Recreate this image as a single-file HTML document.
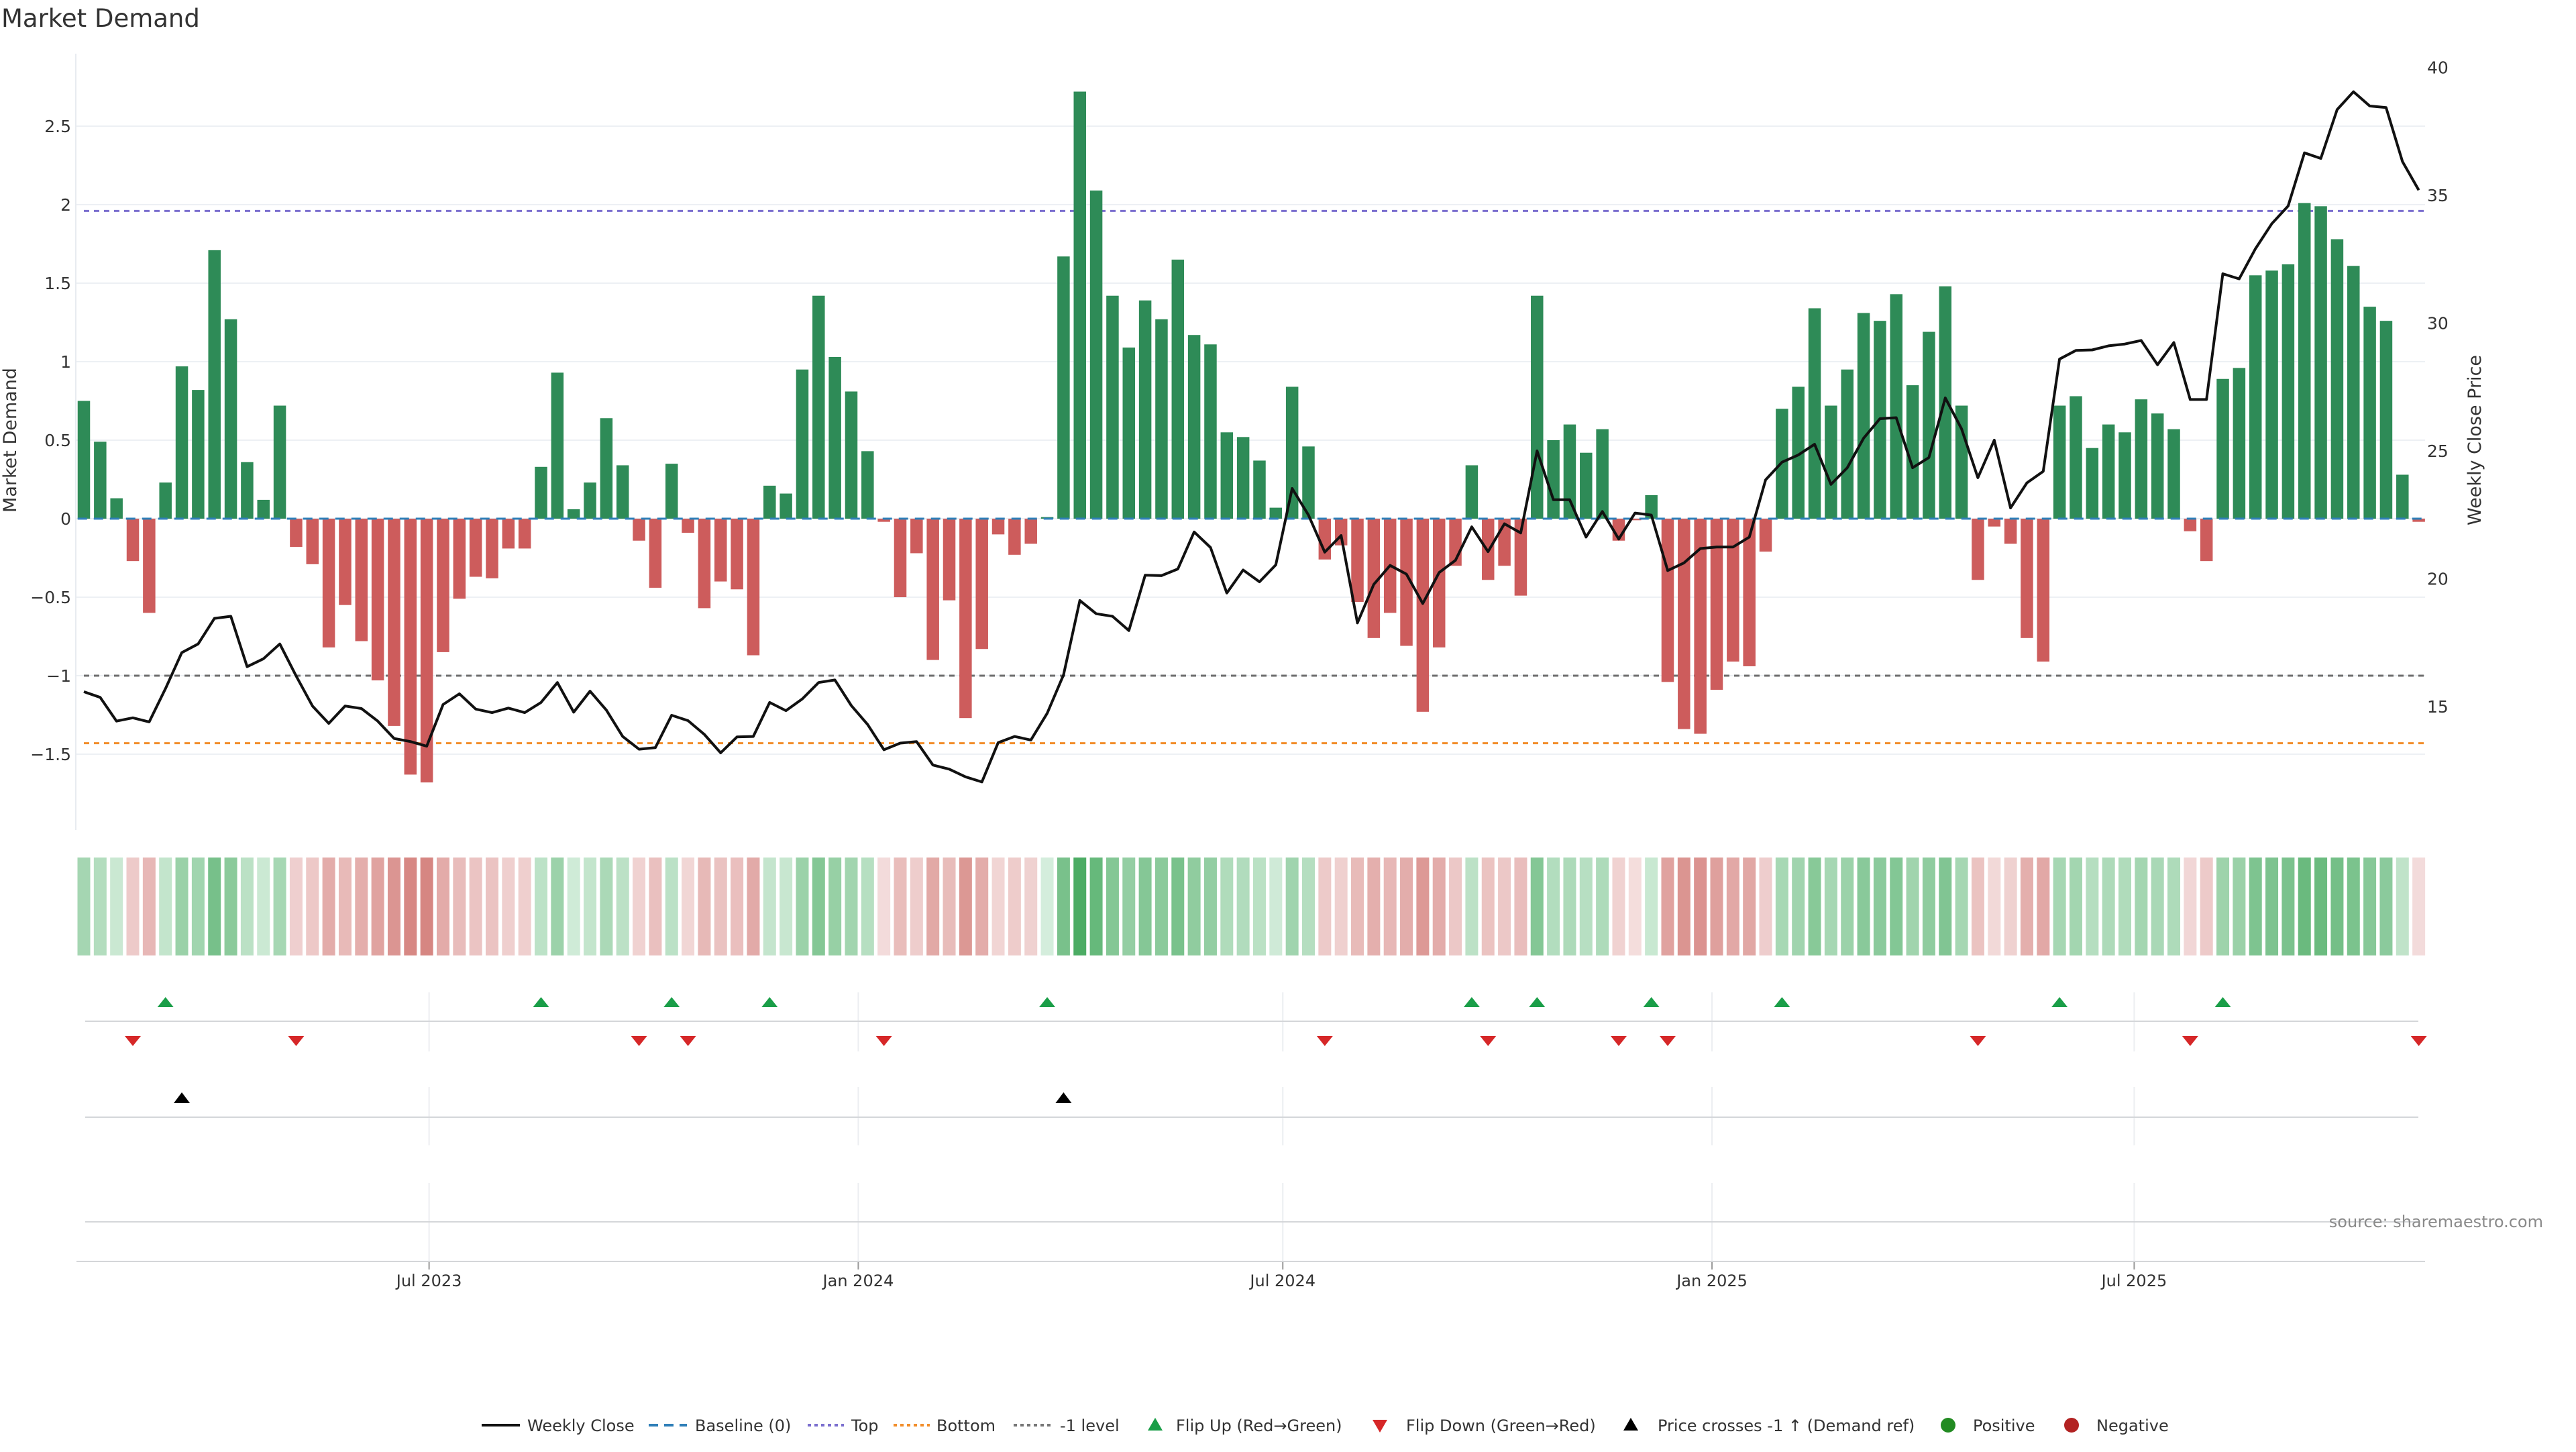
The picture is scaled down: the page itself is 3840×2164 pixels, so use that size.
<!DOCTYPE html>
<html><head><meta charset="utf-8"><title>Market Demand</title>
<style>
html,body{margin:0;padding:0;background:#fff;}
body{width:3840px;height:2160px;overflow:hidden;font-family:"DejaVu Sans","Liberation Sans",sans-serif;}
svg text{font-family:"DejaVu Sans","Liberation Sans",sans-serif;fill:#333;}
</style></head>
<body>
<svg id="chart" width="3840" height="2160" viewBox="0 0 3840 2160" xmlns="http://www.w3.org/2000/svg">
  <text x="2" y="40" font-size="37">Market Demand</text>
  <g id="grid"></g>
  <g id="refs"></g>
  <g id="bars"></g>
  <g id="price"></g>
  <g id="axes"></g>
  <g id="heat"></g>
  <g id="events"></g>
  <text transform="translate(24,656) rotate(-90)" text-anchor="middle" font-size="27">Market Demand</text>
  <text transform="translate(3698,656) rotate(-90)" text-anchor="middle" font-size="27">Weekly Close Price</text>
  <text x="3791" y="1829" text-anchor="end" font-size="24" style="fill:#8a8a8a">source: sharemaestro.com</text>
  <g id="legend" font-size="24">
    <g><line x1="718" y1="2124" x2="775" y2="2124" stroke="#111" stroke-width="4"/><text x="786" y="2133">Weekly Close</text></g>
    <g><line x1="967" y1="2124" x2="1024" y2="2124" stroke="#2f7fb8" stroke-width="4" stroke-dasharray="14,9"/><text x="1036" y="2133">Baseline (0)</text></g>
    <g><line x1="1204" y1="2124" x2="1258" y2="2124" stroke="#7b6fcf" stroke-width="4" stroke-dasharray="5,5"/><text x="1269" y="2133">Top</text></g>
    <g><line x1="1332" y1="2124" x2="1386" y2="2124" stroke="#f28e2b" stroke-width="4" stroke-dasharray="5,5"/><text x="1396" y="2133">Bottom</text></g>
    <g><line x1="1511" y1="2124" x2="1567" y2="2124" stroke="#777" stroke-width="4" stroke-dasharray="5,5"/><text x="1580" y="2133">-1 level</text></g>
    <g><polygon points="1722,2113 1733,2132 1711,2132" fill="#1a9e48"/><text x="1753" y="2133">Flip Up (Red→Green)</text></g>
    <g><polygon points="2046,2116 2068,2116 2057,2135" fill="#d62728"/><text x="2096" y="2133">Flip Down (Green→Red)</text></g>
    <g><polygon points="2431,2113 2442,2132 2420,2132" fill="#000"/><text x="2471" y="2133">Price crosses -1 ↑ (Demand ref)</text></g>
    <g><circle cx="2904" cy="2124" r="11" fill="#228b22"/><text x="2941" y="2133">Positive</text></g>
    <g><circle cx="3088" cy="2124" r="11" fill="#b22222"/><text x="3125" y="2133">Negative</text></g>
  </g>
</svg>
<script>
// ---- data ----
const startDate = "2023-02-03";
const demand = [0.75,0.49,0.13,-0.27,-0.60,0.23,0.97,0.82,1.71,1.27,0.36,0.12,0.72,-0.18,-0.29,-0.82,-0.55,-0.78,-1.03,-1.32,-1.63,-1.68,-0.85,-0.51,-0.37,-0.38,-0.19,-0.19,0.33,0.93,0.06,0.23,0.64,0.34,-0.14,-0.44,0.35,-0.09,-0.57,-0.40,-0.45,-0.87,0.21,0.16,0.95,1.42,1.03,0.81,0.43,-0.02,-0.50,-0.22,-0.90,-0.52,-1.27,-0.83,-0.10,-0.23,-0.16,0.01,1.67,2.72,2.09,1.42,1.09,1.39,1.27,1.65,1.17,1.11,0.55,0.52,0.37,0.07,0.84,0.46,-0.26,-0.17,-0.53,-0.76,-0.60,-0.81,-1.23,-0.82,-0.30,0.34,-0.39,-0.30,-0.49,1.42,0.50,0.60,0.42,0.57,-0.14,-0.01,0.15,-1.04,-1.34,-1.37,-1.09,-0.91,-0.94,-0.21,0.70,0.84,1.34,0.72,0.95,1.31,1.26,1.43,0.85,1.19,1.48,0.72,-0.39,-0.05,-0.16,-0.76,-0.91,0.72,0.78,0.45,0.60,0.55,0.76,0.67,0.57,-0.08,-0.27,0.89,0.96,1.55,1.58,1.62,2.01,1.99,1.78,1.61,1.35,1.26,0.28,-0.02];
const closePrice = [15.58,15.36,14.43,14.56,14.40,15.70,17.11,17.45,18.45,18.53,16.56,16.87,17.45,16.20,15.02,14.34,15.02,14.92,14.43,13.75,13.63,13.45,15.08,15.50,14.90,14.76,14.94,14.76,15.16,15.94,14.78,15.60,14.86,13.83,13.33,13.39,14.66,14.45,13.91,13.19,13.81,13.83,15.16,14.84,15.30,15.94,16.04,15.04,14.30,13.31,13.57,13.63,12.71,12.55,12.25,12.05,13.59,13.83,13.69,14.74,16.24,19.15,18.63,18.53,17.97,20.14,20.12,20.38,21.83,21.22,19.44,20.34,19.88,20.54,23.53,22.49,21.04,21.69,18.27,19.78,20.52,20.18,19.03,20.24,20.72,22.03,21.06,22.15,21.79,25.00,23.09,23.09,21.63,22.63,21.55,22.57,22.49,20.32,20.62,21.18,21.24,21.24,21.63,23.87,24.56,24.84,25.26,23.69,24.34,25.50,26.26,26.30,24.34,24.74,27.07,25.86,23.95,25.42,22.77,23.75,24.20,28.59,28.93,28.95,29.11,29.18,29.32,28.37,29.24,27.01,27.01,31.93,31.73,32.91,33.89,34.58,36.66,36.44,38.35,39.05,38.49,38.43,36.32,35.20];
const leftTicks = [2.5,2,1.5,1,0.5,0,-0.5,-1,-1.5];
const leftTickLabels = ["2.5","2","1.5","1","0.5","0","−0.5","−1","−1.5"];
const rightTicks = [40,35,30,25,20,15];
const xTickDates = ["2023-07-01","2024-01-01","2024-07-01","2025-01-01","2025-07-01"];
const xTickLabels = ["Jul 2023","Jan 2024","Jul 2024","Jan 2025","Jul 2025"];
const topLevel = 1.96;
const bottomLevel = -1.43;
const minusOneLevel = -1;
const crossPrice = 16.2;

// ---- scales ----
const svg = document.getElementById('chart');
const NS = 'http://www.w3.org/2000/svg';
const DAY = 86400000;
const t0 = Date.parse(startDate);
const PITCH = 24.34;
function xDate(ms){ return 125 + (ms - t0) / (7*DAY) * PITCH; }
function xIdx(i){ return 125 + i*PITCH; }
function yL(v){ return 773 - v*234; }
function yR(p){ return 100.5 + (40 - p)*38.1; }
const X0 = 114, X1 = 3615;
function mk(tag, attrs, parent){ const e=document.createElementNS(NS,tag); for(const k in attrs) e.setAttribute(k,attrs[k]); parent.appendChild(e); return e; }

const grid = document.getElementById('grid');
leftTicks.forEach((v,i)=>{
  const gl = mk('line',{x1:X0,x2:X1,y1:yL(v),y2:yL(v),stroke:'#edf0f4','stroke-width':2},grid);
  
  
});
const axes = document.getElementById('axes');
mk('line',{x1:113,x2:113,y1:80,y2:1237,stroke:'#e8ebf0','stroke-width':2},axes);
leftTicks.forEach((v,i)=>{
  const t = mk('text',{x:106,y:yL(v)+9,'text-anchor':'end','font-size':25},axes);
  t.textContent = leftTickLabels[i];
  
  
});
rightTicks.forEach(p=>{
  const t = mk('text',{x:3618,y:yR(p)+9,'font-size':25},axes);
  t.textContent = String(p);
  
  
});

// reference lines
const refs = document.getElementById('refs');
[[topLevel,'#7b6fcf','top-line'],[minusOneLevel,'#6e6e6e','minus1-level-line'],[bottomLevel,'#f28e2b','bottom-line']].forEach(r=>{
  const l = mk('line',{x1:125,x2:X1,y1:yL(r[0]),y2:yL(r[0]),stroke:r[1],'stroke-width':3,'stroke-dasharray':'8,7'},refs);
  
  
});

// bars
const bars = document.getElementById('bars');
const BW = PITCH*0.76;
demand.forEach((v,i)=>{
  const y = Math.min(yL(v), yL(0)), h = Math.max(Math.abs(yL(v)-yL(0)), 1.5);
  const r = mk('rect',{x:xIdx(i)-BW/2,y:y,width:BW,height:h,fill: v>=0 ? '#2e8b57' : '#cd5c5c'},bars);
  
  
});
const base = mk('line',{x1:125-BW/2,x2:X1,y1:yL(0),y2:yL(0),stroke:'#2f7fb8','stroke-width':3,'stroke-dasharray':'14,10'},bars);



// price line
const pg = document.getElementById('price');
const pts = closePrice.map((p,i)=>xIdx(i).toFixed(1)+','+yR(p).toFixed(1)).join(' ');
const pl = mk('polyline',{points:pts,fill:'none',stroke:'#111','stroke-width':4,'stroke-linejoin':'round'},pg);



// heatmap strip
const heat = document.getElementById('heat');
function mix(a,b,t){ return 'rgb('+a.map((c,k)=>Math.round(c+(b[k]-c)*t)).join(',')+')'; }
demand.forEach((v,i)=>{
  let col;
  if(v>=0){ const t=Math.min(v/2.72,1); col = mix([214,238,221],[76,172,100],Math.pow(t,0.8)); }
  else { const t=Math.min(-v/1.68,1); col = mix([244,222,222],[214,134,130],Math.pow(t,0.8)); }
  const c = mk('rect',{x:xIdx(i)-9.5,y:1278,width:19,height:146,fill:col},heat);
  
  
});

// event panels
const ev = document.getElementById('events');
xTickDates.forEach((d,k)=>{
  const x = xDate(Date.parse(d));
  [[1479,1567],[1620,1707],[1763,1880]].forEach(s=>{
    const g = mk('line',{x1:x,x2:x,y1:s[0],y2:s[1],stroke:'#eceef1','stroke-width':2},ev);
    
    
  });
  const tk = mk('line',{x1:x,x2:x,y1:1880,y2:1892,stroke:'#999','stroke-width':2},ev);
  
  
  const tl = mk('text',{x:x,y:1917,'text-anchor':'middle','font-size':24},ev);
  tl.textContent = xTickLabels[k];
  
  
});
[1522,1665,1821].forEach(y=>{
  const l = mk('line',{x1:127,x2:3605,y1:y,y2:y,stroke:'#d4d6d9','stroke-width':2},ev);
  
  
});
const ax = mk('line',{x1:114,x2:3615,y1:1880,y2:1880,stroke:'#d4d6d9','stroke-width':2},ev);


for(let i=1;i<demand.length;i++){
  const x = xIdx(i);
  if(demand[i-1]<0 && demand[i]>=0){
    const m = mk('polygon',{points:`${x},1486 ${x+12},1501 ${x-12},1501`,fill:'#1a9e48'},ev);
    
    
  }
  if(demand[i-1]>=0 && demand[i]<0){
    const m = mk('polygon',{points:`${x-12},1544 ${x+12},1544 ${x},1559`,fill:'#d62728'},ev);
    
    
  }
  if(closePrice[i-1]<crossPrice && closePrice[i]>=crossPrice){
    const m = mk('polygon',{points:`${x},1628 ${x+12},1644 ${x-12},1644`,fill:'#000'},ev);
    
    
  }
}
</script>
</body></html>
